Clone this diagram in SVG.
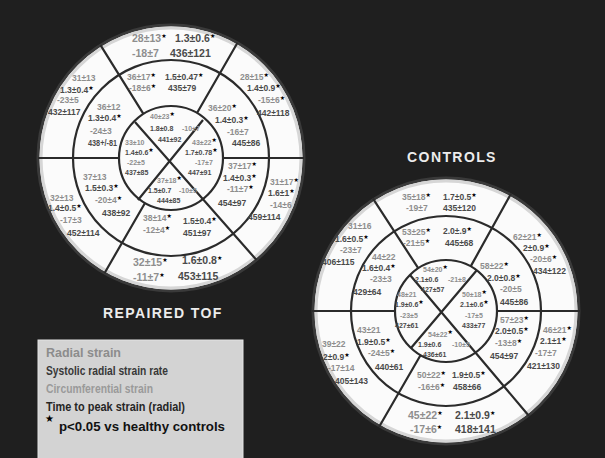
<svg xmlns="http://www.w3.org/2000/svg" width="605" height="458" viewBox="0 0 605 458">
<style>
text{font-family:"Liberation Sans",Arial,sans-serif;font-weight:bold}
.g{fill:#8e8e8e}.d{fill:#4a4a4a}
.L{font-size:10.5px}.M{font-size:8.5px}.S{font-size:7px}
.st{font-family:"DejaVu Sans",sans-serif;font-size:6px;fill:#000}
.ring{fill:none;stroke:#2b2b2b;stroke-width:2.2}
.outer{fill:#fbfbfb;stroke:#3a3a3a;stroke-width:3}
.halo{fill:none;stroke:#d6d6d6;stroke-width:3}
.ln{stroke:#2b2b2b;stroke-width:2.2;fill:none}
.title{font-size:14px;fill:#ececec;letter-spacing:1.4px}
.lg{font-size:12.5px}
</style>
<rect width="605" height="458" fill="#1f1f1f"/>

<g id="tof-plot">
<circle class="outer" cx="171" cy="158" r="133"/>
<circle class="halo" cx="171" cy="158" r="130"/>
<circle class="ring" cx="171" cy="158" r="98"/>
<circle class="ring" cx="171" cy="158" r="52"/>
</g>
<g id="controls-plot">
<circle class="outer" cx="446" cy="311" r="133"/>
<circle class="halo" cx="446" cy="311" r="130"/>
<circle class="ring" cx="446" cy="311" r="95"/>
<circle class="ring" cx="446" cy="311" r="51"/>
</g>
<g id="connectors">
<path class="ln" d="M38,158H119M223,158H304M143.4,113.9L100.5,45.2M197,113L237.5,42.8M145,203L104.5,273.2M135,122L256.5,260M203,120L138,200"/>
<path class="ln" d="M312,311H395M497,311H580M418.2,268.2L373,198.6M470.7,266.4L511,193.8M420.5,355.2L379,427M410,275L529,416M477,270L411,348"/>
</g>

<g id="tof-basal-anterior">
<text class="L g" x="132" y="42">28±13<tspan class="st" dy="-4">★</tspan></text>
<text class="L d" x="175" y="42">1.3±0.6<tspan class="st" dy="-4">★</tspan></text>
<text class="L g" x="132" y="57">-18±7</text>
<text class="L d" x="170" y="57">436±121</text>
</g>
<g id="tof-basal-anteroseptal">
<text class="M g" x="72" y="81">31±13</text>
<text class="M d" x="60" y="93">1.3±0.4<tspan class="st" dy="-3">★</tspan></text>
<text class="M g" x="57" y="103">-23±5</text>
<text class="M d" x="48" y="115">432±117</text>
</g>
<g id="tof-mid-anteroseptal">
<text class="M g" x="97" y="110">36±12</text>
<text class="M d" x="88" y="121">1.3±0.4<tspan class="st" dy="-3">★</tspan></text>
<text class="M g" x="90" y="134">-24±3</text>
<text class="M d" x="88" y="146" textLength="29" lengthAdjust="spacingAndGlyphs">438+/-81</text>
</g>
<g id="tof-mid-anterior">
<text class="M g" x="127" y="80">36±17<tspan class="st" dy="-3">★</tspan></text>
<text class="M d" x="165" y="80">1.5±0.47<tspan class="st" dy="-3">★</tspan></text>
<text class="M g" x="129" y="91">-18±6<tspan class="st" dy="-3">★</tspan></text>
<text class="M d" x="168" y="91">435±79</text>
</g>
<g id="tof-basal-anterolateral">
<text class="M g" x="240" y="80">28±15<tspan class="st" dy="-3">★</tspan></text>
<text class="M d" x="247" y="91">1.4±0.9<tspan class="st" dy="-3">★</tspan></text>
<text class="M g" x="258" y="103">-15±6<tspan class="st" dy="-3">★</tspan></text>
<text class="M d" x="257" y="116">442±118</text>
</g>
<g id="tof-mid-anterolateral">
<text class="M g" x="208" y="111">36±20<tspan class="st" dy="-3">★</tspan></text>
<text class="M d" x="215" y="123">1.4±0.3<tspan class="st" dy="-3">★</tspan></text>
<text class="M g" x="227" y="135">-16±7</text>
<text class="M d" x="232" y="146">445±86</text>
</g>
<g id="tof-mid-inferolateral">
<text class="M g" x="228" y="169">37±17<tspan class="st" dy="-3">★</tspan></text>
<text class="M d" x="223" y="181">1.4±0.3<tspan class="st" dy="-3">★</tspan></text>
<text class="M g" x="227" y="192">-11±7<tspan class="st" dy="-3">★</tspan></text>
<text class="M d" x="218" y="206">454±97</text>
</g>
<g id="tof-basal-inferolateral">
<text class="M g" x="270" y="185">31±17<tspan class="st" dy="-3">★</tspan></text>
<text class="M d" x="268" y="196">1.6±1<tspan class="st" dy="-3">★</tspan></text>
<text class="M g" x="270" y="208">-14±6</text>
<text class="M d" x="248" y="220">459±114</text>
</g>
<g id="tof-mid-inferior">
<text class="M g" x="143" y="221">38±14<tspan class="st" dy="-3">★</tspan></text>
<text class="M d" x="183" y="224">1.5±0.4<tspan class="st" dy="-3">★</tspan></text>
<text class="M g" x="143" y="233">-12±4<tspan class="st" dy="-3">★</tspan></text>
<text class="M d" x="183" y="236">451±97</text>
</g>
<g id="tof-basal-inferior">
<text class="L g" x="133" y="266">32±15<tspan class="st" dy="-4">★</tspan></text>
<text class="L d" x="182" y="264">1.6±0.8<tspan class="st" dy="-4">★</tspan></text>
<text class="L g" x="133" y="281">-11±7<tspan class="st" dy="-4">★</tspan></text>
<text class="L d" x="178" y="280">453±115</text>
</g>
<g id="tof-mid-inferoseptal">
<text class="M g" x="83" y="180">37±13</text>
<text class="M d" x="85" y="191">1.5±0.3<tspan class="st" dy="-3">★</tspan></text>
<text class="M g" x="95" y="203">-20±4<tspan class="st" dy="-3">★</tspan></text>
<text class="M d" x="102" y="216">438±92</text>
</g>
<g id="tof-basal-inferoseptal">
<text class="M g" x="50" y="201">32±13</text>
<text class="M d" x="48" y="211">1.4±0.5<tspan class="st" dy="-3">★</tspan></text>
<text class="M g" x="60" y="223">-17±3</text>
<text class="M d" x="67" y="236">452±114</text>
</g>
<g id="tof-apical-anterior">
<text class="S g" x="150" y="119">40±23<tspan class="st" dy="-3">★</tspan></text>
<text class="S d" x="150" y="131">1.8±0.8</text>
<text class="S g" x="182" y="131">-10±7</text>
<text class="S d" x="158" y="142">441±92</text>
</g>
<g id="tof-apical-septal">
<text class="S g" x="125" y="145">33±10</text>
<text class="S d" x="125" y="155">1.4±0.6<tspan class="st" dy="-3">★</tspan></text>
<text class="S g" x="127" y="165">-22±5</text>
<text class="S d" x="125" y="175">437±85</text>
</g>
<g id="tof-apical-lateral">
<text class="S g" x="192" y="145">43±22<tspan class="st" dy="-3">★</tspan></text>
<text class="S d" x="185" y="155">1.7±0.78<tspan class="st" dy="-3">★</tspan></text>
<text class="S g" x="195" y="165">-17±7</text>
<text class="S d" x="188" y="175">447±91</text>
</g>
<g id="tof-apical-inferior">
<text class="S g" x="157" y="183">37±18<tspan class="st" dy="-3">★</tspan></text>
<text class="S d" x="148" y="193">1.5±0.7</text>
<text class="S g" x="179" y="193">-10±5</text>
<text class="S d" x="157" y="203">444±85</text>
</g>

<g id="ctl-basal-anterior">
<text class="M g" x="402" y="200">35±18<tspan class="st" dy="-3">★</tspan></text>
<text class="M d" x="443" y="200">1.7±0.5<tspan class="st" dy="-3">★</tspan></text>
<text class="M g" x="406" y="211">-19±7</text>
<text class="M d" x="443" y="211">435±120</text>
</g>
<g id="ctl-basal-anteroseptal">
<text class="M g" x="348" y="229">31±16</text>
<text class="M d" x="335" y="242">1.6±0.5<tspan class="st" dy="-3">★</tspan></text>
<text class="M g" x="340" y="253">-23±7</text>
<text class="M d" x="322" y="265">406±115</text>
</g>
<g id="ctl-mid-anteroseptal">
<text class="M g" x="372" y="260">44±22</text>
<text class="M d" x="362" y="271">1.6±0.4<tspan class="st" dy="-3">★</tspan></text>
<text class="M g" x="370" y="282">-23±3</text>
<text class="M d" x="353" y="295">429±64</text>
</g>
<g id="ctl-mid-anterior">
<text class="M g" x="402" y="235">53±25<tspan class="st" dy="-3">★</tspan></text>
<text class="M d" x="443" y="234">2.0±.9<tspan class="st" dy="-3">★</tspan></text>
<text class="M g" x="403" y="246">-21±5<tspan class="st" dy="-3">★</tspan></text>
<text class="M d" x="445" y="246">445±68</text>
</g>
<g id="ctl-basal-anterolateral">
<text class="M g" x="513" y="240">62±21<tspan class="st" dy="-3">★</tspan></text>
<text class="M d" x="523" y="251">2±0.9<tspan class="st" dy="-3">★</tspan></text>
<text class="M g" x="530" y="262">-20±6<tspan class="st" dy="-3">★</tspan></text>
<text class="M d" x="533" y="274">434±122</text>
</g>
<g id="ctl-mid-anterolateral">
<text class="M g" x="480" y="269">58±22<tspan class="st" dy="-3">★</tspan></text>
<text class="M d" x="487" y="281">2.0±0.8<tspan class="st" dy="-3">★</tspan></text>
<text class="M g" x="500" y="292">-20±5</text>
<text class="M d" x="500" y="305">445±86</text>
</g>
<g id="ctl-apical-anterior">
<text class="S g" x="423" y="272">54±20<tspan class="st" dy="-3">★</tspan></text>
<text class="S d" x="415" y="282">2.1±0.6</text>
<text class="S g" x="448" y="282">-21±8</text>
<text class="S d" x="421" y="292">427±57</text>
</g>
<g id="ctl-apical-septal">
<text class="S g" x="397" y="297">48±21</text>
<text class="S d" x="395" y="307">1.9±0.6<tspan class="st" dy="-3">★</tspan></text>
<text class="S g" x="400" y="318">-23±5</text>
<text class="S d" x="395" y="328">427±61</text>
</g>
<g id="ctl-apical-lateral">
<text class="S g" x="462" y="297">50±18<tspan class="st" dy="-3">★</tspan></text>
<text class="S d" x="460" y="307">2.1±0.6<tspan class="st" dy="-3">★</tspan></text>
<text class="S g" x="465" y="318">-17±5</text>
<text class="S d" x="462" y="328">433±77</text>
</g>
<g id="ctl-apical-inferior">
<text class="S g" x="428" y="337">54±22<tspan class="st" dy="-3">★</tspan></text>
<text class="S d" x="418" y="347">1.9±0.6</text>
<text class="S g" x="452" y="347">-10±5</text>
<text class="S d" x="423" y="357">436±61</text>
</g>
<g id="ctl-mid-inferolateral">
<text class="M g" x="500" y="323">57±23<tspan class="st" dy="-3">★</tspan></text>
<text class="M d" x="495" y="334">2.0±0.5<tspan class="st" dy="-3">★</tspan></text>
<text class="M g" x="495" y="346">-13±8<tspan class="st" dy="-3">★</tspan></text>
<text class="M d" x="490" y="359">454±97</text>
</g>
<g id="ctl-basal-inferolateral">
<text class="M g" x="543" y="333">46±21<tspan class="st" dy="-3">★</tspan></text>
<text class="M d" x="540" y="344">2.1±1<tspan class="st" dy="-3">★</tspan></text>
<text class="M g" x="535" y="356">-17±7</text>
<text class="M d" x="527" y="369">421±130</text>
</g>
<g id="ctl-mid-inferior">
<text class="M g" x="417" y="378">50±22<tspan class="st" dy="-3">★</tspan></text>
<text class="M d" x="452" y="378">1.9±0.5<tspan class="st" dy="-3">★</tspan></text>
<text class="M g" x="418" y="390">-16±6<tspan class="st" dy="-3">★</tspan></text>
<text class="M d" x="453" y="390">458±66</text>
</g>
<g id="ctl-basal-inferior">
<text class="L g" x="408" y="419">45±22<tspan class="st" dy="-4">★</tspan></text>
<text class="L d" x="455" y="419">2.1±0.9<tspan class="st" dy="-4">★</tspan></text>
<text class="L g" x="410" y="433">-17±6<tspan class="st" dy="-4">★</tspan></text>
<text class="L d" x="455" y="433">418±141</text>
</g>
<g id="ctl-mid-inferoseptal">
<text class="M g" x="357" y="333">43±21</text>
<text class="M d" x="357" y="345">1.9±0.5<tspan class="st" dy="-3">★</tspan></text>
<text class="M g" x="368" y="356">-24±5<tspan class="st" dy="-3">★</tspan></text>
<text class="M d" x="375" y="370">440±61</text>
</g>
<g id="ctl-basal-inferoseptal">
<text class="M g" x="322" y="347">39±22</text>
<text class="M d" x="323" y="360">2±0.9<tspan class="st" dy="-3">★</tspan></text>
<text class="M g" x="328" y="371">-17±14</text>
<text class="M d" x="335" y="384">405±143</text>
</g>

<text class="title" x="103" y="318">REPAIRED TOF</text>
<text class="title" x="452" y="162" text-anchor="middle">CONTROLS</text>

<g id="legend">
<rect x="38" y="340" width="205" height="125" fill="#d3d3d3" stroke="#e4e4e4" stroke-width="1"/>
<text class="lg" x="46" y="357" fill="#8c8c8c" textLength="75" lengthAdjust="spacingAndGlyphs">Radial strain</text>
<text class="lg" x="46" y="375" fill="#383838" textLength="122" lengthAdjust="spacingAndGlyphs">Systolic radial strain rate</text>
<text class="lg" x="46" y="393" fill="#9a9a9a" textLength="107" lengthAdjust="spacingAndGlyphs">Circumferential strain</text>
<text class="lg" x="46" y="411" fill="#262626" textLength="139" lengthAdjust="spacingAndGlyphs">Time to peak strain (radial)</text>
<text x="45" y="422" style="font-family:'DejaVu Sans',sans-serif;font-size:10px" fill="#000">★</text>
<text x="59" y="431" fill="#111" style="font-size:13px" textLength="166" lengthAdjust="spacingAndGlyphs">p&lt;0.05 vs healthy controls</text>
</g>
</svg>
